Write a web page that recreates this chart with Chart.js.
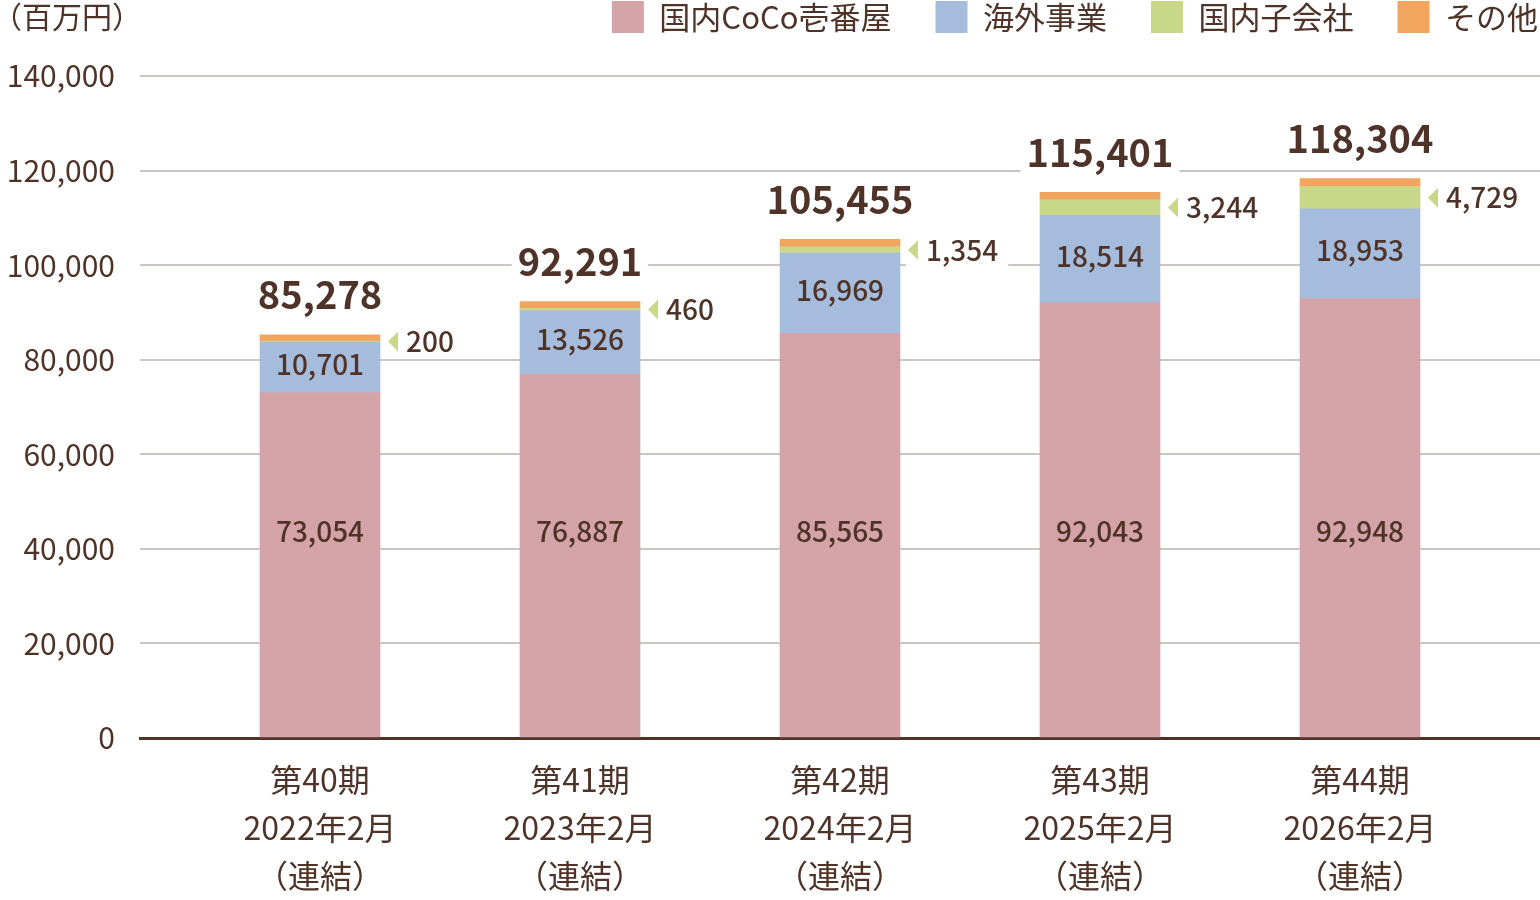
<!DOCTYPE html>
<html lang="ja">
<head>
<meta charset="utf-8">
<title>売上高の推移</title>
<script src="https://cdn.jsdelivr.net/npm/chart.js@4.4.1/dist/chart.umd.min.js"></script>
<style>
  body { margin: 0; background: #fff; }
  #wrap { width: 1540px; height: 900px; position: relative; }
</style>
</head>
<body>
<div id="wrap"><canvas id="chart"></canvas></div>
<script>
// 期ごとの売上高（百万円）
const periods = [
  ['第40期', '2022年2月', '（連結）'],
  ['第41期', '2023年2月', '（連結）'],
  ['第42期', '2024年2月', '（連結）'],
  ['第43期', '2025年2月', '（連結）'],
  ['第44期', '2026年2月', '（連結）']
];
const domestic = [73054, 76887, 85565, 92043, 92948];
const overseas = [10701, 13526, 16969, 18514, 18953];
const subsidiaries = [200, 460, 1354, 3244, 4729];
const others = [1323, 1418, 1567, 1600, 1674];
const totals = [85278, 92291, 105455, 115401, 118304];
const yTicks = [0, 20000, 40000, 60000, 80000, 100000, 120000, 140000];

const brown = '#4f3328';
const font = '"Noto Sans CJK JP", "Noto Sans", sans-serif';
const fmt = v => v.toLocaleString('en-US');

const toPoints = arr => arr.map((v, i) => ({ x: i, y: v }));

// 凡例：下に余白を足し、右端に寄せる
const legendSpace = {
  id: 'legendSpace',
  afterInit(chart) {
    const legend = chart.legend;
    const fit = legend.fit;
    legend.fit = function () {
      fit.call(this);
      this.height += 33;
    };
    const draw = legend.draw;
    legend.draw = function () {
      const c = this.ctx;
      c.save();
      c.translate(42, 0);
      draw.call(this);
      c.restore();
    };
  }
};

// ラベル描画（合計・内訳・国内子会社の吹き出し）
const labelPlugin = {
  id: 'labels',
  afterDatasetsDraw(chart) {
    const ctx = chart.ctx;
    const y = chart.scales.y;
    const metaDom = chart.getDatasetMeta(0);
    const metaOv = chart.getDatasetMeta(1);
    const metaSub = chart.getDatasetMeta(2);
    const metaOth = chart.getDatasetMeta(3);
    ctx.save();
    ctx.textAlign = 'center';
    ctx.textBaseline = 'middle';
    ctx.fillStyle = brown;

    domestic.forEach((v, i) => {
      const bar = metaDom.data[i];
      ctx.font = '500 28px ' + font;
      ctx.fillText(fmt(v), bar.x, y.getPixelForValue(43800));
    });

    overseas.forEach((v, i) => {
      const bar = metaOv.data[i];
      ctx.font = '500 28px ' + font;
      ctx.fillText(fmt(v), bar.x, (bar.y + bar.base) / 2 - 3);
    });

    totals.forEach((v, i) => {
      const bar = metaOth.data[i];
      ctx.font = 'bold 38px ' + font;
      const ty = bar.y - 40;
      const w = ctx.measureText(fmt(v)).width;
      ctx.fillStyle = '#fff';
      ctx.fillRect(bar.x - w / 2 - 6, ty - 22, w + 12, 44);
      ctx.fillStyle = brown;
      ctx.fillText(fmt(v), bar.x, ty);
    });

    subsidiaries.forEach((v, i) => {
      const bar = metaSub.data[i];
      const cy = (bar.y + bar.base) / 2;
      const x0 = bar.x + bar.width / 2 + 8;
      ctx.font = '500 28px ' + font;
      const txt = fmt(v);
      const w = ctx.measureText(txt).width;
      ctx.fillStyle = '#fff';
      ctx.fillRect(x0 - 2, cy - 16, w + 30, 32);
      ctx.fillStyle = '#c8d888';
      ctx.beginPath();
      ctx.moveTo(x0, cy);
      ctx.lineTo(x0 + 10, cy - 10);
      ctx.lineTo(x0 + 10, cy + 10);
      ctx.closePath();
      ctx.fill();
      ctx.fillStyle = brown;
      ctx.textAlign = 'left';
      ctx.fillText(txt, x0 + 18, cy);
      ctx.textAlign = 'center';
    });

    // 単位
    ctx.font = '30px ' + font;
    ctx.textAlign = 'left';
    ctx.fillText('（百万円）', -8, 17);
    ctx.restore();
  }
};

new Chart(document.getElementById('chart'), {
  type: 'bar',
  data: {
    datasets: [
      { label: '国内CoCo壱番屋', data: toPoints(domestic), backgroundColor: '#d4a3a8' },
      { label: '海外事業', data: toPoints(overseas), backgroundColor: '#a6bcdc' },
      { label: '国内子会社', data: toPoints(subsidiaries), backgroundColor: '#c8d888' },
      { label: 'その他', data: toPoints(others), backgroundColor: '#f2a55e' }
    ]
  },
  options: {
    responsive: true,
    maintainAspectRatio: false,
    animation: false,
    barThickness: 120,
    layout: { padding: { top: -43, right: 0, bottom: -18, left: 0 } },
    scales: {
      x: {
        type: 'linear',
        stacked: true,
        offset: false,
        min: -180 / 260,
        max: 4 + 180 / 260,
        afterBuildTicks: s => { s.ticks = periods.map((p, i) => ({ value: i })); },
        grid: { display: false, drawTicks: false, offset: false },
        border: { display: true, color: brown, width: 3 },
        ticks: {
          autoSkip: false,
          maxRotation: 0,
          padding: 18,
          color: brown,
          font: { family: font, size: 32, lineHeight: 1.5 },
          callback: (v, i) => periods[i]
        }
      },
      y: {
        stacked: true,
        min: 0,
        max: 140000,
        afterFit: s => { s.width = 140; },
        afterBuildTicks: s => { s.ticks = yTicks.map(v => ({ value: v })); },
        grid: { color: '#cdc5c3', lineWidth: 2, drawTicks: false },
        border: { display: false },
        ticks: {
          padding: 25,
          color: brown,
          font: { family: font, size: 30 },
          callback: v => fmt(v)
        }
      }
    },
    plugins: {
      legend: {
        position: 'top',
        align: 'end',
        labels: {
          boxWidth: 32,
          boxHeight: 32,
          padding: 44,
          color: brown,
          font: { family: font, size: 31 }
        }
      },
      tooltip: { enabled: false }
    }
  },
  plugins: [legendSpace, labelPlugin]
});
</script>
</body>
</html>
